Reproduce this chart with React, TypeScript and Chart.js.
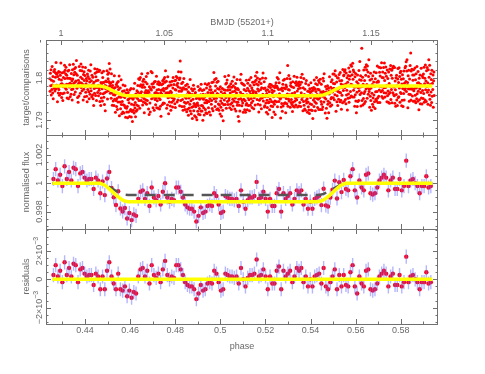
import React, { useEffect, useRef } from "react";
import { Chart, registerables } from "chart.js";
Chart.register(...registerables);

// ---------------- data ----------------
const binPhaseStart = 0.426;
const binPhaseStep = 0.00099;
// residuals of binned points, units of 1e-4
const residuals1e4 = [
  3, 10, 2, 6, -2, 12, 3, 8, 2, 11, 10, -2, 7, 8, 4, 2, 3, 3, -4, 4, 2, -7, 2, -7,
  6, 12, 2, -3, -7, 4, -7, -8, -5, -12, -8, -13, -9, -10, 2, 7, 8, 2, 6, -3, 10,
  3, 1, 4, -2, 7, 13, 3, 0, 2, 1, 10, 10, 7, 3, -2, -4, -5, -5, -7, -14, -10,
  -4, -8, -7, -3, -2, -3, 6, 4, -2, -8, -7, 4, 3, 2, 2, 1, 2, -3, 8, 0, -5,
  1, 3, 3, 4, 14, 2, 3, 7, 2, -7, 2, -3, -3, 6, 9, -7, 6, 2, 4, 6, -2, 2, 8, 6,
  8, -2, 2, -5, 0, -5, 2, 3, 4, -3, 8, -5, -7, -2, 2, 7, -7, 3, -5, 3, -4,
  -5, 5, 10, -5, -10, 2, -3, -5, 6, 7, -7, -8, -7, -3, 2, 4, 6, 4, -5, 2, 4,
  -4, -4, 3, -5, -2, 16, -2, 2, 3, 0, -2, -7, -2, -2, 5, -3, -2,
];
const modelPhases = [0.4255, 0.4467, 0.449, 0.4515, 0.454, 0.4565, 0.458, 0.4592, 0.5431, 0.5443, 0.5458, 0.5483, 0.5508, 0.5533, 0.5556, 0.594];
const modelFlux = [1, 1, 0.99985, 0.9995, 0.99912, 0.99882, 0.99873, 0.9987, 0.9987, 0.99873, 0.99882, 0.99912, 0.9995, 0.99985, 1, 1];
const altModelFlux = [1, 1, 0.9999, 0.99968, 0.99944, 0.99925, 0.99919, 0.99917, 0.99917, 0.99919, 0.99925, 0.99944, 0.99968, 0.9999, 1, 1];
const errHalf = 0.0005;
const rawScale = 1.7981;
const rawPhaseStart = 0.4244;
const rawPhaseEnd = 0.5948;
// scatter of the unbinned points around their bin, units of 1e-4
const rawOffsets1e4 = [
  12,-18,25,-5,33,-27,8,-14,41,-3,-22,17,-36,6,29,-11,-8,21,-30,14,3,-25,38,-16,10,-2,27,-41,19,-7,-20,31,-12,5,-33,22,-9,15,-28,44,
  -6,18,-24,9,35,-15,-31,2,24,-19,11,-38,28,-4,16,-26,7,39,-13,-1,20,-34,13,-21,30,-10,-45,23,4,-17,36,-8,-29,14,1,-23,26,-12,9,-37,
  19,-3,-27,32,-14,7,-40,21,15,-9,-32,26,-6,11,43,-18,-2,29,-24,5,-35,17,10,-20,34,-13,-4,24,-30,8,40,-16,-7,22,-26,3,31,-11,-48,13,
  -15,27,6,-33,18,-8,37,-22,2,14,-28,9,-41,25,-12,19,-5,32,-19,-36,12,4,-25,30,-9,45,-17,7,-31,20,-3,-14,28,-23,11,-39,16,1,-10,34,
  23,-11,-30,15,5,-42,26,-7,36,-19,10,-2,-27,31,-14,8,50,-24,13,-5,-34,21,-16,3,29,-9,-38,18,6,-21,33,-12,24,-29,-1,16,-44,9,27,-6,
  -20,4,30,-13,-37,22,11,-26,17,-4,39,-15,-8,26,-32,7,14,-23,35,-10,1,-40,19,28,-18,-3,12,-29,42,-14,6,24,-35,10,-7,31,-21,-2,18,-46,
  9,-28,21,2,-16,34,-39,13,-6,27,-22,5,47,-12,-30,16,-1,23,-26,38,-9,11,-33,20,-15,4,32,-20,-43,15,25,-8,-17,36,-4,-31,12,29,-24,7,
  -2,16,-35,28,10,-21,-9,41,-27,3,19,-14,-38,24,8,-18,33,-6,-25,13,46,-11,2,-32,22,-19,15,-4,30,-37,-10,21,5,-28,37,-15,-1,26,-42,11,
  31,-7,14,-24,-3,38,-17,6,-36,20,12,-29,25,-10,-44,17,4,-20,29,-13,9,35,-31,-5,18,-22,43,-8,1,-26,14,-39,27,7,-12,-33,22,-16,40,-4,
  -25,10,37,-18,3,-34,24,-9,15,-40,28,1,-14,32,-23,6,-7,45,-30,12,-19,21,-2,-37,26,8,-12,19,-28,34,-5,-21,11,-45,17,30,-8,2,-33,23,
  16,-30,5,27,-12,-41,20,9,-22,36,-6,-17,29,-35,13,2,-27,40,-10,18,-43,7,24,-15,-3,33,-24,11,-38,22,4,-19,31,-8,-30,15,42,-13,-1,25,
  -9,34,-21,13,-46,19,-4,28,-16,7,-33,25,12,-28,3,39,-19,-7,21,-36,30,70,6,-24,44,-2,17,-31,9,-14,27,-40,14,-5,36,-22,-12,20,-29,1,
  28,-14,-2,23,-31,10,35,-25,-8,17,-39,30,4,-20,15,-11,48,-27,8,-3,-34,26,-18,12,-45,21,1,-13,38,-23,-6,29,-35,16,-10,33,-1,-26,19,5,
  -32,21,8,-19,40,-5,-26,14,31,-12,-1,-38,24,10,-29,35,-16,3,-22,27,-9,-44,18,6,-14,29,-33,9,-4,41,-20,15,-28,2,24,-11,-37,32,-7,13,
  7,-23,33,-10,-35,18,-3,26,-42,11,20,-15,-6,37,-25,4,13,-30,22,-8,45,-18,-12,28,-36,1,16,-21,34,-13,-40,25,-2,10,-27,38,-16,6,-31,19,
  -18,12,-29,36,2,-13,24,-34,9,-5,30,-22,17,-47,14,-9,27,-17,-1,39,-28,6,21,-11,-37,25,-4,32,-19,8,-26,15,43,-14,-8,20,-32,11,3,-24,
  25,-4,-36,17,-20,31,6,-12,-28,22,-2,43,-15,9,-33,18,-7,26,-40,12,3,-19,35,-26,14,-10,-44,20,-3,-55,-17,7,-31,24,-6,-21,37,-11,16,-38,
  -11,29,-17,4,-39,27,-8,15,34,-24,10,-3,-30,21,-13,46,-20,1,-35,16,28,-6,-25,11,-15,33,-41,5,19,-28,-1,38,-12,-22,14,-33,8,27,-18,2,
  4,-38,19,-12,26,-6,-29,40,-16,12,-21,3,31,-34,17,-9,-24,22,8,-42,29,-14,-2,36,-27,9,-11,24,-36,14,-5,-18,30,-9,42,-25,5,-14,21,-30,
  -27,15,-6,38,-21,9,-43,18,2,-15,27,-31,11,-4,35,-19,6,-37,24,-12,16,-3,-28,32,-8,19,-46,13,-20,28,-10,3,-33,17,-15,25,-7,-39,30,10,
  20,-9,-25,12,33,-37,7,-18,24,-1,-30,15,-11,39,-22,5,-40,28,-14,10,-6,31,-24,1,17,-35,26,-13,8,-29,36,-4,-20,13,-44,22,-10,18,-26,34,
  -3,65,-32,8,-15,41,-23,3,-8,30,-38,14,20,-27,-5,25,-17,9,-34,37,-12,-21,16,-2,43,-30,4,-16,27,-9,-36,19,11,-24,30,-3,-41,15,-13,6,
  13,-35,22,-11,-27,16,4,-40,29,-7,18,-23,37,-14,1,-32,23,-10,45,-19,7,-28,12,-4,-38,26,-15,33,-21,9,2,-30,20,-6,-17,35,-25,10,-42,17,
  -19,8,-4,31,-34,20,-12,27,-26,11,-45,22,-1,16,-29,34,-8,-18,13,-39,25,5,-23,38,-11,-2,21,-33,10,-16,29,-40,7,24,-13,-5,32,-28,14,-9,
  32,-16,11,-28,3,-43,25,-6,19,-31,36,-10,-21,8,-36,27,-3,14,-25,21,-47,12,30,-14,-7,24,-34,17,-1,40,-22,6,-30,15,-12,28,-19,-37,23,1,
  -6,37,-20,14,-9,25,-36,2,-24,33,-13,21,-41,10,29,-18,-4,39,-27,6,18,-33,-8,26,-16,11,-39,31,-5,-23,16,-44,24,-11,8,-29,35,-2,-15,20,
  22,-41,30,-8,46,-25,12,-35,38,-14,-3,27,-48,18,-20,34,-10,52,-30,7,-37,25,15,-22,41,-5,-33,29,-15,9,-44,36,-2,20,-28,43,-17,6,-39,31,
  -12,39,-27,16,-46,28,3,-31,44,-19,24,-8,-38,33,-15,11,55,-24,-6,30,-42,19,-11,95,-29,4,26,-36,13,-21,47,-9,-33,22,-4,34,-48,15,-18,40,
  28,-7,-40,35,-16,21,-32,10,50,-26,5,-38,27,-12,43,-22,8,-45,31,-3,18,-29,39,-14,-35,24,-9,46,-25,12,-41,30,-1,-19,37,-30,14,-8,53,-23,
  -34,17,6,-28,41,-13,29,-43,20,-5,36,-21,-9,48,-32,13,-18,26,-40,9,33,-15,-27,44,2,-37,23,-11,38,-24,16,-6,-45,31,-14,27,-3,-30,42,-10,
  15,-32,37,-19,-4,45,-36,22,-12,30,-47,11,35,-23,-8,40,-28,5,-16,51,-34,19,-2,-41,27,-13,33,-26,8,-39,24,49,-20,3,-31,38,-10,17,-44,26,
  -21,44,-9,25,-38,14,-25,36,3,-45,21,-14,39,-30,10,-6,47,-35,18,-18,29,-42,7,34,-27,12,-48,28,-3,41,-16,-33,20,-11,45,-24,75,-37,32,-8,
  36,-13,-29,21,8,-42,33,-17,26,-6,-36,43,-22,15,-40,29,-1,-27,50,-15,11,-33,38,-9,20,-44,31,-20,6,39,-30,17,-12,46,-25,4,-39,28,-7,24,
  -26,32,-14,48,-35,9,22,-30,41,-18,3,-46,27,-10,35,-24,13,-38,44,-4,68,26,-16,55,-28,7,-42,33,-11,19,-36,41,-21,10,-5,30,-47,16,37,-19,
];

// ticks / labels
const phaseMajor = [0.44, 0.46, 0.48, 0.5, 0.52, 0.54, 0.56, 0.58];
const phaseLabels = ["0.44", "0.46", "0.48", "0.5", "0.52", "0.54", "0.56", "0.58"];
const bmjdMajor = [1, 1.05, 1.1, 1.15];
const bmjdLabels = ["1", "1.05", "1.1", "1.15"];
const topYMajor = [1.79, 1.8];
const topYLabels = ["1.79", "1.8"];
const midYMajor = [0.998, 1, 1.002];
const midYLabels = ["0.998", "1", "1.002"];
const botYMajor = [-0.002, 0, 0.002];
const botYLabels = [["\u22122\u00d710", "\u22123"], ["0", ""], ["2\u00d710", "\u22123"]];

// ---------------- layout ----------------
const W = 485, H = 374;
const L = 46, R = 438;
const FONT = '9px "Liberation Sans", Arial, sans-serif';
const TXT = "#6a6a6a";
const FRAME = "#707070";

function modelAt(p: number, vals: number[]) {
  for (let i = 0; i < modelPhases.length - 1; i++) {
    if (p <= modelPhases[i + 1]) {
      const t = (p - modelPhases[i]) / (modelPhases[i + 1] - modelPhases[i]);
      return vals[i] + Math.max(0, Math.min(1, t)) * (vals[i + 1] - vals[i]);
    }
  }
  return vals[vals.length - 1];
}

const binPhases = residuals1e4.map((_, i) => binPhaseStart + i * binPhaseStep);
const binResid = residuals1e4.map((r) => r * 1e-4);
const binFlux = binPhases.map((p, i) => modelAt(p, modelFlux) + binResid[i]);
const rawStep = (rawPhaseEnd - rawPhaseStart) / (rawOffsets1e4.length - 1);
const rawPts = rawOffsets1e4.map((o, k) => {
  const p = rawPhaseStart + k * rawStep;
  let b = Math.round((p - binPhaseStart) / binPhaseStep);
  b = Math.max(0, Math.min(binFlux.length - 1, b));
  return { x: p, y: rawScale * binFlux[b] + o * 1e-4 };
});

function errSegments(vals: number[]) {
  const out: any[] = [];
  binPhases.forEach((p, i) => {
    out.push({ x: p, y: vals[i] - errHalf }, { x: p, y: vals[i] + errHalf }, { x: p, y: null });
  });
  return out;
}

function range(a: number, b: number, step: number) {
  const n = Math.round((b - a) / step);
  const r: number[] = [];
  for (let i = 0; i <= n; i++) r.push(a + i * step);
  return r;
}

function vtext(ctx: CanvasRenderingContext2D, s: string, x: number, y: number) {
  ctx.save();
  ctx.translate(x, y);
  ctx.rotate(-Math.PI / 2);
  ctx.textAlign = "center";
  ctx.textBaseline = "middle";
  ctx.fillText(s, 0, 0);
  ctx.restore();
}
function vtextSup(ctx: CanvasRenderingContext2D, main: string, sup: string, x: number, y: number) {
  ctx.save();
  ctx.translate(x, y);
  ctx.rotate(-Math.PI / 2);
  ctx.textBaseline = "middle";
  ctx.textAlign = "left";
  ctx.font = FONT;
  const w1 = ctx.measureText(main).width;
  ctx.font = '7px "Liberation Sans", Arial, sans-serif';
  const w2 = sup ? ctx.measureText(sup).width : 0;
  const tot = w1 + w2;
  ctx.font = FONT;
  ctx.fillText(main, -tot / 2, 0);
  if (sup) {
    ctx.font = '7px "Liberation Sans", Arial, sans-serif';
    ctx.fillText(sup, -tot / 2 + w1, -3.5);
  }
  ctx.restore();
}

const framePlugin = {
  id: "frame",
  afterDraw(chart: any, _args: any, opts: any) {
    const { ctx, chartArea: a } = chart;
    const xs = chart.scales.x, ys = chart.scales.y;
    ctx.save();
    ctx.strokeStyle = FRAME;
    ctx.lineWidth = 1;
    ctx.strokeRect(a.left + 0.5, a.top + 0.5, a.right - a.left - 1, a.bottom - a.top);
    const tick = (x1: number, y1: number, x2: number, y2: number) => {
      ctx.beginPath(); ctx.moveTo(x1, y1); ctx.lineTo(x2, y2); ctx.stroke();
    };
    // phase ticks
    const phMinor = range(0.43, 0.59, 0.01);
    phMinor.forEach((v) => {
      const major = phaseMajor.some((m) => Math.abs(m - v) < 1e-6);
      const len = major ? 5 : 2.5;
      const px = Math.round(xs.getPixelForValue(v)) + 0.5;
      tick(px, a.bottom, px, a.bottom - len);
      if (opts.panel !== "top") tick(px, a.top, px, a.top + len);
    });
    if (opts.panel === "top") {
      const x2 = chart.scales.x2;
      range(0.99, 1.18, 0.01).forEach((v) => {
        const major = bmjdMajor.some((m) => Math.abs(m - v) < 1e-6);
        const len = major ? 5 : 2.5;
        const px = Math.round(x2.getPixelForValue(v)) + 0.5;
        tick(px, a.top, px, a.top + len);
      });
    }
    // y ticks
    opts.yMinor.forEach((v: number) => {
      const major = opts.yMajor.some((m: number) => Math.abs(m - v) < 1e-7);
      const len = major ? 5 : 2.5;
      const py = Math.round(ys.getPixelForValue(v)) + 0.5;
      if (py < a.top || py > a.bottom) return;
      tick(a.left, py, a.left + len, py);
      tick(a.right, py, a.right - len, py);
    });
    ctx.fillStyle = TXT;
    ctx.font = FONT;
    // y labels
    opts.yMajor.forEach((v: number, i: number) => {
      const py = ys.getPixelForValue(v);
      const lab = opts.yLabels[i];
      if (Array.isArray(lab)) vtextSup(ctx, lab[0], lab[1], 40, py);
      else vtext(ctx, lab, 40, py);
    });
    vtext(ctx, opts.title, 27, (a.top + a.bottom) / 2);
    if (opts.panel === "top") {
      const x2 = chart.scales.x2;
      ctx.textAlign = "center";
      ctx.textBaseline = "middle";
      bmjdMajor.forEach((v, i) => ctx.fillText(bmjdLabels[i], x2.getPixelForValue(v), 34));
      ctx.fillText("BMJD (55201+)", (a.left + a.right) / 2, 23);
    }
    if (opts.panel === "bot") {
      ctx.textAlign = "center";
      ctx.textBaseline = "middle";
      phaseMajor.forEach((v, i) => ctx.fillText(phaseLabels[i], xs.getPixelForValue(v), 331));
      ctx.fillText("phase", (a.left + a.right) / 2, 347);
    }
    ctx.restore();
  },
};

function makeChart(canvas: HTMLCanvasElement, top: number, bottom: number, ymin: number, ymax: number, datasets: any[], frame: any) {
  const scales: any = {
    x: { type: "linear", min: 0.4227, max: 0.5965, display: false },
    y: { type: "linear", min: ymin, max: ymax, display: false },
  };
  if (frame.panel === "top") scales.x2 = { type: "linear", axis: "x", position: "top", min: 0.99274, max: 1.18242, display: false };
  return new Chart(canvas, {
    type: "scatter",
    data: { datasets },
    options: {
      responsive: false,
      animation: false,
      events: [],
      layout: { padding: { left: L, right: W - R, top, bottom: H - bottom } },
      plugins: { legend: { display: false }, tooltip: { enabled: false }, frame } as any,
      scales,
      elements: { line: { tension: 0 } },
    },
    plugins: [framePlugin],
  } as any);
}

const yellowLine = (data: any[]) => ({
  type: "line", data, showLine: true, borderColor: "#ffff00", borderWidth: 3.5, pointRadius: 0, order: 0,
});

export default function App() {
  const c1 = useRef<HTMLCanvasElement>(null);
  const c2 = useRef<HTMLCanvasElement>(null);
  const c3 = useRef<HTMLCanvasElement>(null);
  useEffect(() => {
    const charts: Chart[] = [];
    charts.push(makeChart(c1.current!, 40, 135, 1.78643, 1.80905, [
      yellowLine(modelPhases.map((p, i) => ({ x: p, y: rawScale * modelFlux[i] }))),
      { type: "scatter", data: rawPts, pointRadius: 1.5, pointBorderWidth: 0, backgroundColor: "#ff0000", borderColor: "#ff0000", order: 3 },
    ], { panel: "top", yMajor: topYMajor, yLabels: topYLabels, yMinor: range(1.786, 1.808, 0.002), title: "target/comparisons" }));
    charts.push(makeChart(c2.current!, 135, 229, 0.99677, 1.003413, [
      yellowLine(modelPhases.map((p, i) => ({ x: p, y: modelFlux[i] }))),
      { type: "line", data: modelPhases.map((p, i) => ({ x: p, y: altModelFlux[i] })), showLine: true, borderColor: "#555555", borderWidth: 2.5, borderDash: [11, 8], pointRadius: 0, order: 1 },
      { type: "line", data: errSegments(binFlux), showLine: true, spanGaps: false, borderColor: "rgba(110,110,255,0.5)", borderWidth: 1.4, pointRadius: 0, order: 2 },
      { type: "scatter", data: binPhases.map((p, i) => ({ x: p, y: binFlux[i] })), pointRadius: 2.2, pointBorderWidth: 0, backgroundColor: "#ff0018", order: 3 },
    ], { panel: "mid", yMajor: midYMajor, yLabels: midYLabels, yMinor: range(0.997, 1.0035, 0.0005), title: "normalised flux" }));
    charts.push(makeChart(c3.current!, 229, 324, -0.003159, 0.003555, [
      yellowLine([{ x: modelPhases[0], y: 0 }, { x: modelPhases[modelPhases.length - 1], y: 0 }]),
      { type: "line", data: errSegments(binResid), showLine: true, spanGaps: false, borderColor: "rgba(110,110,255,0.5)", borderWidth: 1.4, pointRadius: 0, order: 2 },
      { type: "scatter", data: binPhases.map((p, i) => ({ x: p, y: binResid[i] })), pointRadius: 2.2, pointBorderWidth: 0, backgroundColor: "#ff0018", order: 3 },
    ], { panel: "bot", yMajor: botYMajor, yLabels: botYLabels, yMinor: range(-0.003, 0.0035, 0.0005), title: "residuals" }));
    return () => charts.forEach((c) => c.destroy());
  }, []);
  const cs: React.CSSProperties = { position: "absolute", left: 0, top: 0, width: W, height: H };
  return (
    <div style={{ position: "absolute", left: 0, top: 0, width: W, height: H, background: "#fff" }}>
      <canvas ref={c1} width={W} height={H} style={cs} />
      <canvas ref={c2} width={W} height={H} style={cs} />
      <canvas ref={c3} width={W} height={H} style={cs} />
    </div>
  );
}
